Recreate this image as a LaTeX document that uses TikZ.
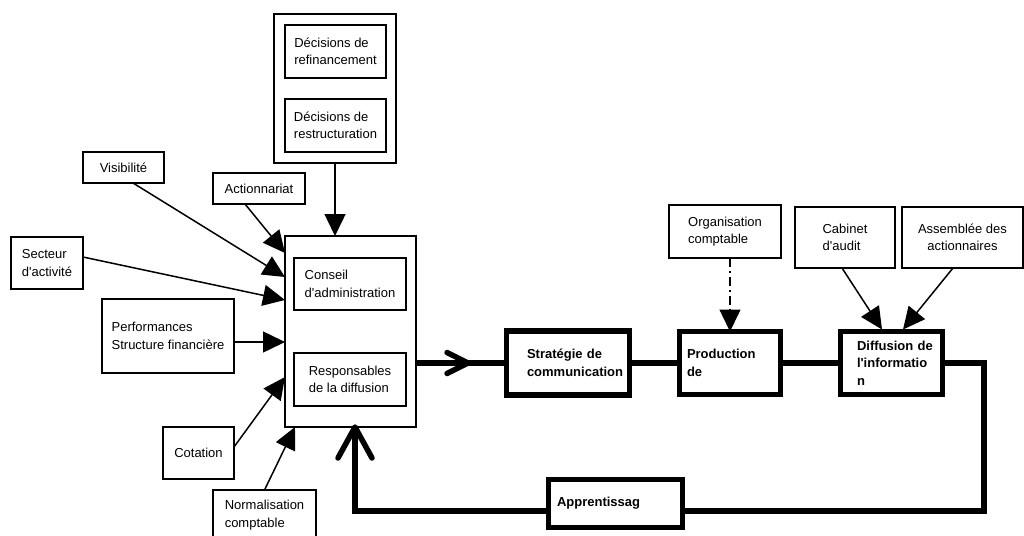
\documentclass[tikz,border=0pt]{standalone}
\usepackage{fontspec}
\setmainfont{Liberation Sans}
\usetikzlibrary{positioning}
\usetikzlibrary{arrows.meta}

\begin{document}
\begin{tikzpicture}[
                x=1pt, y=-1pt,
                box/.style = {
                    draw,
                    line width = 1.5pt,
                    inner sep = 0pt,
                    outer sep = 0pt,
                    align = left,
                    font = \fontsize{13}{17.5}\selectfont
                },
                bigbox/.style = {
                    draw,
                    line width = 5.5pt,
                    inner sep = 0pt,
                    outer sep = 0pt,
                    align = left,
                    text width = #1,
                    font = \fontsize{13}{17.5}\selectfont\bfseries
                },
                bigbox/.default = 80pt,
                size/.style 2 args = {
                    minimum width = #1pt,
                    minimum height = #2pt
                },
                arrow/.style = {
                    line width = 1.5pt,
                    -{Triangle[length=22pt, width=21pt]}
                },
                link/.style = {line width = 5.5pt},
                barb/.style = {
                    line width = 5.5pt,
                    line cap = round,
                    line join = round
                },
                node distance = {21pt}
            ]
            \useasboundingbox (0,0) rectangle (1024,535);
            % 
            \node[box, size={122}{149}] (1) at (335,88.5) {};
            \node[box, size={101}{53}] (2) at (335.5,51.5) {Décisions de\\refinancement};
            \node[box, size={101}{53}, below=of 2] (3) {Décisions de\\restructuration};
            % 
            \node[box, size={81}{31}] (4) at (123.5,167.5) {Visibilité};
            \node[box, size={92}{31}] (5) at (259,188.5) {Actionnariat};
            \node[box, size={72}{52}] (6) at (47,263) {Secteur\\d\textquotesingle activité};
            \node[box, size={132}{74}] (7) at (168,336) {Performances\\Structure financière};
            \node[box, size={71}{52}] (8) at (198.5,453) {Cotation};
            \node[box, size={103}{50}] (9) at (264.5,515) {Normalisation\\comptable};
            % 
            \node[box, size={131}{191}] (10) at (350.5,331.5) {};
            \node[box, size={112}{52}] (11) at (350,284) {Conseil\\d\textquotesingle administration};
            \node[box, size={112}{53}, below=43pt of 11] (12) {Responsables\\de la diffusion};
            % 
            \node[bigbox=82pt, size={123}{64}] (13) at (568,363) {Stratégie~de\\communication};
            \node[bigbox=86pt, size={101}{63}] (14) at (730,363) {Production\\de};
            \node[bigbox=69pt, size={102}{63}] (15) at (891.5,363) {Diffusion~de\\l\textquotesingle informatio\\n};
            \node[bigbox=117pt, size={134}{48}] (16) at (615.5,503.5) {Apprentissag};
            % 
            \node[box, size={112}{53}] (17) at (725,231.5) {Organisation\\comptable};
            \node[box, size={100}{61}] (18) at (845,237.5) {Cabinet\\d\textquotesingle audit};
            \node[box, size={121}{61}, align=center] (19) at (962.5,237.5) {Assemblée des\\actionnaires};
            % 
            \draw[arrow] (1.south) -- (1.south |- 10.north);
            \draw[arrow] ([shift={(-14,0)}]5.south) -- ([shift={(0,17)}]10.north west);
            \draw[arrow] ([shift={(9.5,0)}]4.south) -- ([shift={(0,41)}]10.north west);
            \draw[arrow] ([shift={(0,-6)}]6.east) -- ([shift={(0,64)}]10.north west);
            \draw[arrow] ([shift={(0,6)}]7.east) -- ([shift={(0,106)}]10.north west);
            \draw[arrow] ([shift={(0,-6)}]8.east) -- ([shift={(0,141)}]10.north west);
            \draw[arrow] (9.north) -- ([shift={(10,0)}]10.south west);
            % 
            \draw[arrow, dash pattern=on 9pt off 4pt on 2pt off 4pt] (14.north |- 17.south) -- (14.north);
            \draw[arrow] ([shift={(-3,0)}]18.south) -- ([shift={(-9.5,-2)}]15.north);
            \draw[arrow] ([shift={(-9.5,0)}]19.south) -- ([shift={(11.5,-2)}]15.north);
            % 
            \draw[link] (10.east |- 13.west) -- coordinate[pos=0.575] (c1) (13.west);
            \draw[barb] ([shift={(-21,-10.5)}]c1) -- (c1) -- ([shift={(-21,10.5)}]c1);
            \draw[link] (13.east) -- (14.west);
            \draw[link] (14.east) -- (15.west);
            % 
            \draw[link] (15.east) -- ++(41.5,0) |- ([shift={(0,7.5)}]16.east);
            \draw[link] ([shift={(0,7.5)}]16.west) -| ([shift={(70,0)}]10.south west) coordinate (c2);
            \draw[barb] ([shift={(-17,31)}]c2) -- (c2) -- ([shift={(17,31)}]c2);
            % 
        \end{tikzpicture}
\end{document}
